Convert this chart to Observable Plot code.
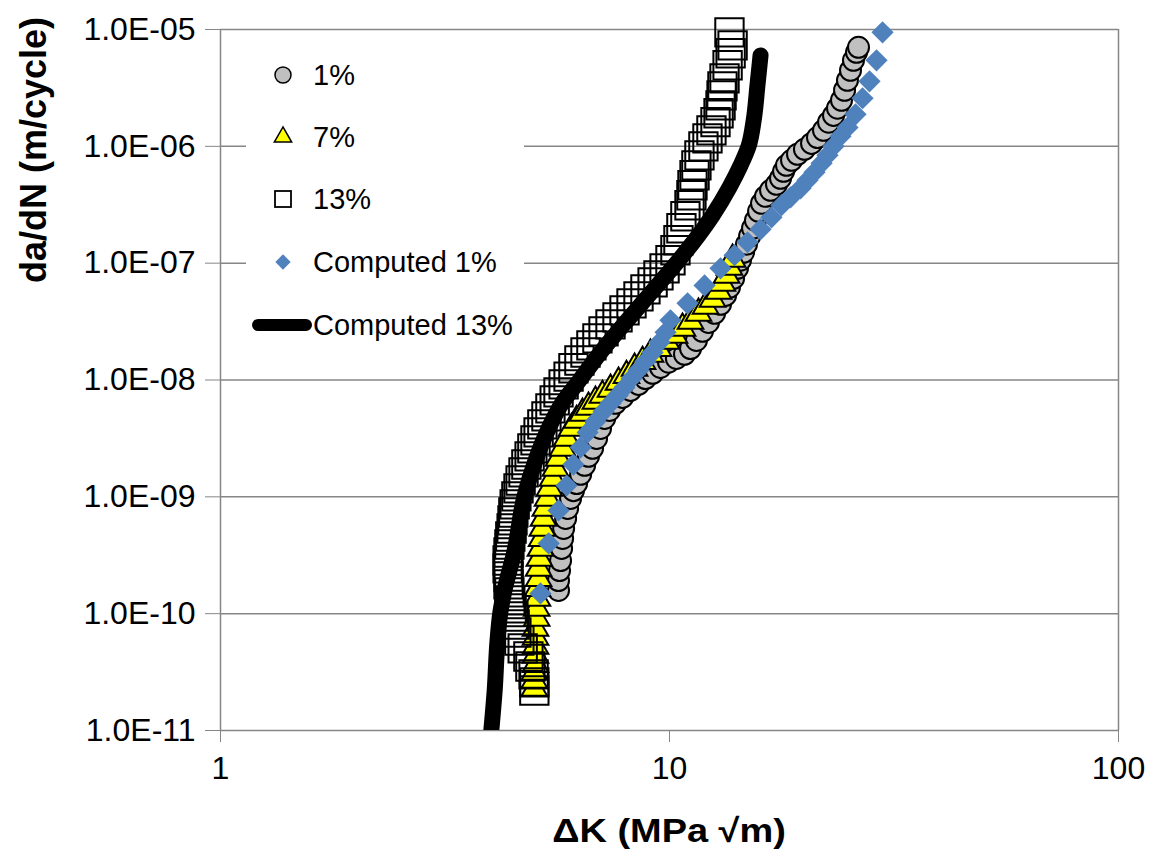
<!DOCTYPE html>
<html><head><meta charset="utf-8">
<script src="https://cdn.jsdelivr.net/npm/d3@7"></script>
<script src="https://cdn.jsdelivr.net/npm/@observablehq/plot@0.6"></script>
<style>body{margin:0;background:#fff} svg{display:block}</style>
</head><body><div id="chart"></div>
<script>
// Axis ticks
const xTicks = [1, 10, 100];
const xTickLabels = ["1", "10", "100"];
const yTicks = [1e-11, 1e-10, 1e-9, 1e-8, 1e-7, 1e-6, 1e-5];
const yTickLabels = ["1.0E-11", "1.0E-10", "1.0E-09", "1.0E-08", "1.0E-07", "1.0E-06", "1.0E-05"];
const seriesNames = ["1%", "7%", "13%", "Computed 1%", "Computed 13%"];

// 1% (measured)
const p1K = [5.66,5.66,5.69,5.72,5.75,5.78,5.81,5.87,5.93,6.02,6.11,6.21,6.34,6.47,6.60,6.74,6.88,7.02,7.17,7.35,7.58,7.86,8.19,8.53,8.84,9.17,9.55,9.95,10.36,10.80,11.14,11.48,11.84,12.21,12.60,12.99,13.33,13.60,13.89,14.17,14.39,14.62,14.84,15.08,15.31,15.54,15.79,16.03,16.36,16.79,17.31,17.67,17.95,18.22,18.70,19.28,19.98,20.72,21.36,22.03,22.61,23.19,23.67,24.16,24.54,24.91,25.30,25.69,26.09,26.36];
const p1Rate = [1.58e-10,1.92e-10,2.34e-10,2.85e-10,3.62e-10,4.40e-10,5.36e-10,6.53e-10,7.96e-10,9.69e-10,1.13e-9,1.30e-9,1.56e-9,1.86e-9,2.22e-9,2.60e-9,3.16e-9,3.85e-9,4.69e-9,5.49e-9,6.31e-9,7.10e-9,8.15e-9,9.17e-9,1.03e-8,1.14e-8,1.28e-8,1.42e-8,1.53e-8,1.66e-8,1.86e-8,2.18e-8,2.61e-8,3.11e-8,3.72e-8,4.44e-8,5.30e-8,6.21e-8,7.41e-8,9.03e-8,1.06e-7,1.24e-7,1.45e-7,1.70e-7,1.99e-7,2.32e-7,2.78e-7,3.25e-7,3.73e-7,4.20e-7,4.73e-7,5.32e-7,6.11e-7,6.88e-7,7.59e-7,8.54e-7,9.43e-7,1.06e-6,1.19e-6,1.37e-6,1.61e-6,1.84e-6,2.12e-6,2.48e-6,3.02e-6,3.67e-6,4.47e-6,5.45e-6,6.38e-6,7.04e-6];

// 7% (measured)
const p7K = [5.00,5.00,5.00,5.03,5.03,5.03,5.03,5.03,5.06,5.06,5.08,5.08,5.11,5.11,5.13,5.16,5.19,5.21,5.24,5.29,5.35,5.40,5.49,5.57,5.66,5.78,5.90,6.05,6.21,6.40,6.60,6.84,7.09,7.39,7.70,8.02,8.36,8.71,9.07,9.45,9.85,10.26,10.69,11.14,11.60,12.03,12.47,12.86,13.12,13.40,13.60,13.82];
const p7Rate = [2.29e-11,2.68e-11,3.14e-11,3.67e-11,4.39e-11,5.24e-11,6.26e-11,7.47e-11,9.10e-11,1.11e-10,1.35e-10,1.64e-10,2.00e-10,2.44e-10,2.97e-10,3.62e-10,4.40e-10,5.36e-10,6.53e-10,7.96e-10,9.69e-10,1.18e-9,1.44e-9,1.75e-9,2.13e-9,2.60e-9,3.16e-9,3.85e-9,4.51e-9,5.18e-9,5.83e-9,6.56e-9,7.38e-9,8.31e-9,9.54e-9,1.09e-8,1.26e-8,1.44e-8,1.66e-8,1.86e-8,2.14e-8,2.41e-8,2.77e-8,3.18e-8,3.72e-8,4.27e-8,4.90e-8,5.74e-8,6.72e-8,7.86e-8,9.20e-8,1.08e-7];

// 13% (measured)
const p13K = [5.00,5.00,4.98,4.90,4.85,4.71,4.63,4.56,4.52,4.49,4.45,4.42,4.40,4.38,4.38,4.36,4.36,4.38,4.40,4.42,4.45,4.47,4.49,4.52,4.56,4.61,4.66,4.73,4.80,4.88,4.95,5.03,5.11,5.21,5.32,5.43,5.55,5.66,5.81,5.96,6.11,6.30,6.50,6.70,6.91,7.13,7.39,7.66,7.94,8.23,8.53,8.84,9.17,9.45,9.75,10.05,10.31,10.47,10.63,10.85,11.08,11.19,11.25,11.37,11.48,11.66,11.90,12.15,12.40,12.66,12.86,12.99,13.06,13.12,13.26,13.47,13.68,13.82,13.60];
const p13Rate = [2.20e-11,2.58e-11,3.02e-11,3.53e-11,4.30e-11,5.04e-11,5.89e-11,6.90e-11,8.08e-11,9.46e-11,1.11e-10,1.30e-10,1.52e-10,1.78e-10,2.08e-10,2.44e-10,2.85e-10,3.34e-10,3.91e-10,4.58e-10,5.36e-10,6.28e-10,7.35e-10,8.61e-10,1.01e-9,1.18e-9,1.38e-9,1.62e-9,1.89e-9,2.22e-9,2.60e-9,3.04e-9,3.56e-9,4.17e-9,4.88e-9,5.71e-9,6.69e-9,7.83e-9,9.17e-9,1.07e-8,1.26e-8,1.47e-8,1.72e-8,1.98e-8,2.27e-8,2.61e-8,2.99e-8,3.44e-8,3.94e-8,4.53e-8,5.20e-8,5.97e-8,6.85e-8,7.86e-8,9.03e-8,1.06e-7,1.29e-7,1.57e-7,1.99e-7,2.52e-7,3.13e-7,3.81e-7,4.64e-7,5.65e-7,6.88e-7,8.37e-7,1.00e-6,1.17e-6,1.37e-6,1.61e-6,1.92e-6,2.24e-6,2.73e-6,3.26e-6,3.82e-6,4.94e-6,6.26e-6,7.32e-6,9.46e-6];

// Computed 1%
const c1K = [5.16,5.38,5.66,5.90,6.11,6.34,6.57,6.84,7.13,7.39,7.66,7.94,8.23,8.53,8.84,9.17,9.50,9.80,10.05,10.97,11.97,12.99,13.96,14.92,15.95,16.87,17.76,18.60,19.58,20.29,21.03,21.81,22.48,23.19,24.03,24.91,25.96,26.91,27.89,28.91,29.82];
const c1Rate = [1.49e-10,3.99e-10,7.65e-10,1.25e-9,1.89e-9,2.65e-9,3.56e-9,4.42e-9,5.38e-9,6.31e-9,7.38e-9,8.64e-9,1.03e-8,1.21e-8,1.44e-8,1.72e-8,2.10e-8,2.56e-8,3.24e-8,4.53e-8,6.45e-8,9.03e-8,1.17e-7,1.51e-7,1.95e-7,2.47e-7,3.13e-7,3.66e-7,4.37e-7,5.12e-7,5.99e-7,7.15e-7,8.37e-7,1.0e-6,1.22e-6,1.45e-6,1.88e-6,2.58e-6,3.60e-6,5.45e-6,9.46e-6];

// Computed 13%
const c13K = [4.01,4.08,4.14,4.20,4.29,4.52,4.75,5.03,5.38,5.78,6.30,7.02,7.98,9.07,10.36,11.6,12.47,13.6,14.4,15.0,15.4,15.7,15.95];
const c13Rate = [1e-11,2.2e-11,5.9e-11,1.02e-10,1.58e-10,3.48e-10,1e-9,2.05e-9,3.85e-9,6.43e-9,9.9e-9,1.72e-8,3.11e-8,5.51e-8,1e-7,1.73e-7,2.56e-7,4.46e-7,6.87e-7,1e-6,1.67e-6,3.33e-6,6.0e-6];

const rows = (ks, rs) => ks.map((k, i) => ({k, r: rs[i]}));
const FONT = "'Liberation Sans', Arial, sans-serif";
const GRID = "#868686";

const chart = Plot.plot({
  width: 1158, height: 849,
  marginLeft: 220, marginRight: 40, marginTop: 29, marginBottom: 119,
  style: {fontFamily: FONT, background: "#fff", overflow: "visible"},
  x: {type: "log", domain: [1, 100]},
  y: {type: "log", domain: [1e-11, 1e-5]},
  marks: [
    Plot.ruleY(yTicks, {stroke: GRID, strokeWidth: 1.5}),
    Plot.ruleX([1, 100], {stroke: GRID, strokeWidth: 1.5}),
    Plot.axisX(xTicks, {tickFormat: d => xTickLabels[xTicks.indexOf(d)], tickSize: 12, tickPadding: 14, fontSize: 32, stroke: GRID, fill: "#000", label: null}),
    Plot.axisY(yTicks, {tickFormat: d => yTickLabels[Math.round(Math.log10(d)) + 11], tickSize: 15, tickPadding: 10, fontSize: 32, stroke: GRID, fill: "#000", label: null}),
    Plot.dot(rows(p1K, p1Rate), {x: "k", y: "r", r: 10.5, fill: "#c0c0c0", stroke: "#000", strokeWidth: 2}),
    Plot.dot(rows(p7K, p7Rate), {x: "k", y: "r", symbol: "triangle", r: 9.5, fill: "#ffff00", stroke: "#000", strokeWidth: 2}),
    Plot.dot(rows(p13K, p13Rate), {x: "k", y: "r", symbol: "square", r: 16, fill: "none", stroke: "#000", strokeWidth: 2}),
    Plot.dot(rows(c1K, c1Rate), {x: "k", y: "r", symbol: "diamond2", r: 10, fill: "#4f81bd"}),
    Plot.line(rows(c13K, c13Rate), {x: "k", y: "r", stroke: "#000", strokeWidth: 16, strokeLinecap: "round", strokeLinejoin: "round", curve: "monotone-y", clip: true})
  ]
});

const svg = d3.select(chart);
// legend
const lg = svg.append("g").attr("font-family", FONT).attr("font-size", 29).attr("text-anchor", "start");
lg.append("rect").attr("x", 246).attr("y", 40).attr("width", 278).attr("height", 310).attr("fill", "#fff");
const ly = [75, 137, 199, 262, 325];
lg.append("circle").attr("cx", 283).attr("cy", ly[0]).attr("r", 8).attr("fill", "#c0c0c0").attr("stroke", "#000").attr("stroke-width", 1.5);
lg.append("path").attr("d", d3.symbol(d3.symbolTriangle, 130)()).attr("transform", `translate(283,${ly[1]})`).attr("fill", "#ffff00").attr("stroke", "#000").attr("stroke-width", 1.5);
lg.append("rect").attr("x", 275).attr("y", ly[2] - 8).attr("width", 16).attr("height", 16).attr("fill", "none").attr("stroke", "#000").attr("stroke-width", 1.8);
lg.append("path").attr("d", d3.symbol(d3.symbolDiamond2, 150)()).attr("transform", `translate(283,${ly[3]})`).attr("fill", "#4f81bd");
lg.append("line").attr("x1", 258).attr("x2", 306).attr("y1", ly[4]).attr("y2", ly[4]).attr("stroke", "#000").attr("stroke-width", 12).attr("stroke-linecap", "round");
seriesNames.forEach((n, i) => {
  lg.append("text").attr("x", 313).attr("y", ly[i]).attr("dy", "0.35em").attr("text-anchor", "start").text(n);
});
// axis titles
svg.append("text").attr("transform", "translate(33,150) rotate(-90)").attr("text-anchor", "middle").attr("dy", "0.35em")
  .attr("font-family", FONT).attr("font-weight", "bold").attr("font-size", 36).text("da/dN (m/cycle)");
svg.append("text").attr("transform", "translate(669,830) scale(1.15,1)").attr("text-anchor", "middle").attr("dy", "0.35em")
  .attr("font-family", FONT).attr("font-weight", "bold").attr("font-size", 33).text("ΔK (MPa √m)");

document.getElementById("chart").appendChild(chart);
</script></body></html>
